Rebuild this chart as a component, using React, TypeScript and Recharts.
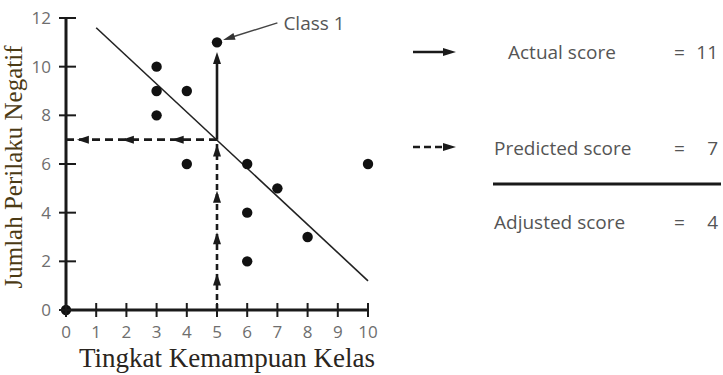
import React from 'react';
import { ScatterChart, Scatter, XAxis, YAxis, ReferenceLine, Label } from 'recharts';

// class ability level vs number of negative behaviours
const classLevel = [0, 3, 3, 3, 4, 4, 5, 6, 6, 6, 7, 8, 10];
const negativeBehaviour = [0, 10, 9, 8, 9, 6, 11, 6, 4, 2, 5, 3, 6];

const xTicks = [0, 1, 2, 3, 4, 5, 6, 7, 8, 9, 10];
const yTicks = [0, 2, 4, 6, 8, 10, 12];

// fitted line end points
const fitX = [1, 10];
const fitY = [11.6, 1.2];

// "Class 1" annotation
const classX = 5;
const actualScore = 11;
const predictedScore = 7;
const actualArrowTip = 10.6;
const upHeads = [1.5, 3.2, 4.9, 6.8];
const leftHeads = [3.5, 1.85, 0.36];
const calloutX = [7.0, 5.2];
const calloutY = [11.8, 11.1];

const legendLabels = ['Actual score', 'Predicted score', 'Adjusted score'];
const legendValues = ['11', '7', '4'];

const points = classLevel.map((x, i) => ({ x, y: negativeBehaviour[i] }));

const SANS = '"Open Sans", sans-serif';
const SERIF = '"Liberation Serif", "DejaVu Serif", serif';
const INK = '#1a1a1a';

const TICK_SIZE = 7;
const TICK_MARGIN = 8;

const head = (tx: number, ty: number, dx: number, dy: number, len = 12, w = 8) => {
  const bx = tx - dx * len;
  const by = ty - dy * len;
  const px = (-dy * w) / 2;
  const py = (dx * w) / 2;
  return `${tx},${ty} ${bx + px},${by + py} ${bx - px},${by - py}`;
};

const dashedArrow = (stops: number[], from: number, to: number, dash: string) => (p: any) => {
  const { x1, y1, x2, y2 } = p;
  const L = Math.hypot(x2 - x1, y2 - y1) || 1;
  const dx = (x2 - x1) / L;
  const dy = (y2 - y1) / L;
  return (
    <g>
      <line x1={x1} y1={y1} x2={x2} y2={y2} stroke={INK} strokeWidth={2.6} strokeDasharray={dash} />
      {stops.map((s, i) => {
        const t = (s - from) / (to - from);
        return <polygon key={i} points={head(x1 + t * (x2 - x1), y1 + t * (y2 - y1), dx, dy)} fill={INK} />;
      })}
    </g>
  );
};

const solidArrow = (p: any) => {
  const { x1, y1, x2, y2 } = p;
  return (
    <g>
      <line x1={x1} y1={y1} x2={x2} y2={y2 + 6} stroke={INK} strokeWidth={2.6} />
      <polygon points={head(x2, y2, 0, -1)} fill={INK} />
    </g>
  );
};

const callout = (p: any) => {
  const { x1, y1, x2, y2 } = p;
  const L = Math.hypot(x2 - x1, y2 - y1) || 1;
  const dx = (x2 - x1) / L;
  const dy = (y2 - y1) / L;
  return (
    <g>
      <line x1={x1} y1={y1} x2={x2 - dx * 8} y2={y2 - dy * 8} stroke="#444" strokeWidth={1.5} />
      <polygon points={head(x2, y2, dx, dy, 12, 7)} fill="#333" />
      <text x={x1 + 6} y={y1 + 7} fontFamily={SANS} fontSize={19} fill="#555">Class 1</text>
    </g>
  );
};

const XTick = (p: any) => {
  const { x, y, payload } = p;
  const axisY = y - TICK_SIZE - TICK_MARGIN;
  return (
    <g>
      <line x1={x} x2={x} y1={axisY - 7} y2={axisY + 7} stroke={INK} strokeWidth={2} />
      <text x={x} y={y + 13} textAnchor="middle" fontFamily={SANS} fontSize={17} fill="#6e6e6e">
        {payload.value}
      </text>
    </g>
  );
};

const YTick = (p: any) => {
  const { x, y, payload } = p;
  const axisX = x + TICK_SIZE + TICK_MARGIN + 1;
  return (
    <g>
      <line x1={axisX - 8} x2={axisX + 9} y1={y} y2={y} stroke={INK} strokeWidth={2} />
      <text x={x} y={y} dy="0.36em" textAnchor="end" fontFamily={SANS} fontSize={17} fill="#6e6e6e">
        {payload.value}
      </text>
    </g>
  );
};

const XTitle = (p: any) => {
  const vb = p.viewBox || { x: 66, y: 310, width: 302, height: 57 };
  return (
    <text x={vb.x + vb.width / 2 + 10} y={vb.y + vb.height} textAnchor="middle" fontFamily={SERIF} fontSize={27} fill="#2a2520">
      Tingkat Kemampuan Kelas
    </text>
  );
};

const YTitle = (p: any) => {
  const vb = p.viewBox || { x: 0, y: 18, width: 66, height: 292 };
  const cx = 22;
  const cy = vb.y + vb.height / 2 + 3;
  return (
    <text x={cx} y={cy} transform={`rotate(-90 ${cx} ${cy})`} textAnchor="middle" fontFamily={SERIF} fontSize={25} fill="#4b3a14">
      Jumlah Perilaku Negatif
    </text>
  );
};

const Legend = () => {
  const rows = [52, 148, 222];
  return (
    <svg width={723} height={375} style={{ position: 'absolute', left: 0, top: 0, pointerEvents: 'none' }}>
      <line x1={413} y1={52} x2={446} y2={52} stroke={INK} strokeWidth={2.6} />
      <polygon points={head(456, 52, 1, 0, 13, 8)} fill={INK} />
      <line x1={413} y1={147} x2={446} y2={147} stroke={INK} strokeWidth={2.6} strokeDasharray="7 4" />
      <polygon points={head(456, 147, 1, 0, 13, 8)} fill={INK} />
      <line x1={493} y1={184} x2={721} y2={184} stroke={INK} strokeWidth={3} />
      {legendLabels.map((t, i) => (
        <g key={t} fontFamily={SANS} fontSize={19} fill="#555">
          <text x={i === 0 ? 508 : 494} y={rows[i]} dy="0.36em">{t}</text>
          <text x={674} y={rows[i]} dy="0.36em">=</text>
          <text x={718} y={rows[i]} dy="0.36em" textAnchor="end">{legendValues[i]}</text>
        </g>
      ))}
    </svg>
  );
};

export default function App() {
  return (
    <div style={{ position: 'absolute', left: 0, top: 0, width: 723, height: 375, background: '#fff' }}>
      <ScatterChart width={723} height={375} margin={{ top: 18, right: 355, bottom: 8, left: 0 }}>
        <XAxis
          type="number"
          dataKey="x"
          domain={[0, 10]}
          ticks={xTicks}
          interval={0}
          height={57}
          axisLine={{ stroke: INK, strokeWidth: 3 }}
          tickLine={false}
          tickSize={TICK_SIZE}
          tickMargin={TICK_MARGIN}
          tick={XTick}
        >
          <Label content={XTitle} />
        </XAxis>
        <YAxis
          type="number"
          dataKey="y"
          domain={[0, 12]}
          ticks={yTicks}
          interval={0}
          width={66}
          axisLine={{ stroke: INK, strokeWidth: 3 }}
          tickLine={false}
          tickSize={TICK_SIZE}
          tickMargin={TICK_MARGIN}
          tick={YTick}
        >
          <Label content={YTitle} />
        </YAxis>
        <ReferenceLine
          segment={[{ x: fitX[0], y: fitY[0] }, { x: fitX[1], y: fitY[1] }]}
          stroke="#222"
          strokeWidth={1.6}
        />
        <ReferenceLine
          segment={[{ x: classX, y: 0 }, { x: classX, y: predictedScore }]}
          shape={dashedArrow(upHeads, 0, predictedScore, '6 4')}
        />
        <ReferenceLine
          segment={[{ x: classX, y: predictedScore }, { x: 0, y: predictedScore }]}
          shape={dashedArrow(leftHeads, classX, 0, '8 5')}
        />
        <ReferenceLine
          segment={[{ x: classX, y: predictedScore }, { x: classX, y: actualArrowTip }]}
          shape={solidArrow}
        />
        <ReferenceLine
          segment={[{ x: calloutX[0], y: calloutY[0] }, { x: calloutX[1], y: calloutY[1] }]}
          shape={callout}
        />
        <Scatter
          data={points}
          isAnimationActive={false}
          shape={(p: any) => <circle cx={p.cx} cy={p.cy} r={5.2} fill="#111" />}
        />
      </ScatterChart>
      <Legend />
    </div>
  );
}
